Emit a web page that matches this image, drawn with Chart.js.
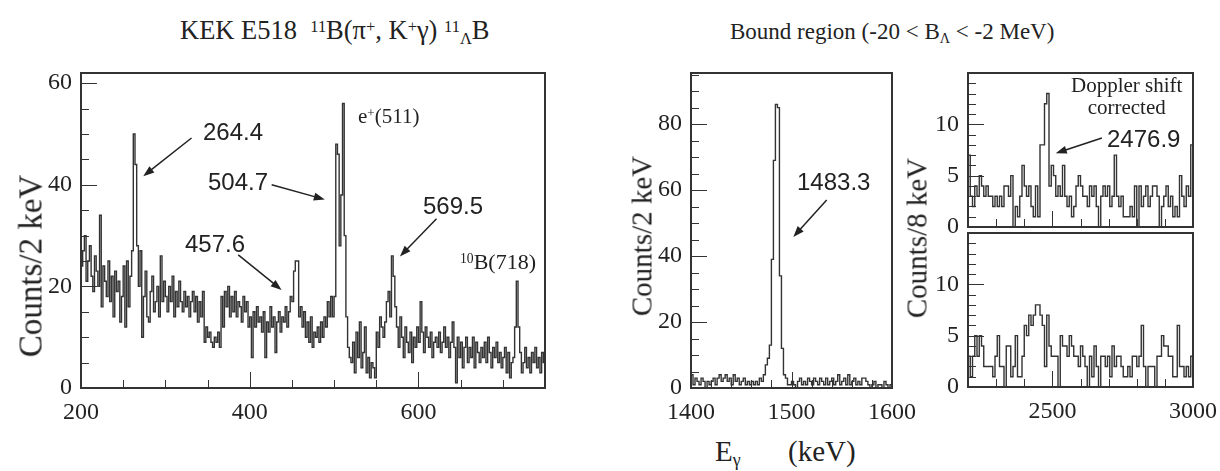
<!DOCTYPE html>
<html>
<head>
<meta charset="utf-8">
<script src="https://cdn.jsdelivr.net/npm/chart.js@4.4.1/dist/chart.umd.min.js"></script>
<style>
  body { margin: 0; background: #fff; width: 1220px; height: 471px; position: relative; overflow: hidden;
         font-family: 'Liberation Serif', serif; color: #222; }
  canvas, .t { position: absolute; }
  .t { white-space: nowrap; line-height: 1; }
  .sans { font-family: 'Liberation Sans', sans-serif; }
  .sup { position: relative; top: -0.45em; font-size: 0.62em; }
  .sub { position: relative; top: 0.3em; font-size: 0.62em; }
  .rot { transform: translate(-50%, -50%) rotate(-90deg); }
</style>
</head>
<body>
<!-- titles -->
<div class="t" style="left:180px;top:17px;font-size:26.5px">KEK E518&nbsp;&nbsp;<span class="sup">11</span>B(π<span class="sup">+</span>, K<span class="sup">+</span>γ)&nbsp;<span class="sup">11</span><span class="sub">Λ</span>B</div>
<div class="t" style="left:730px;top:20px;font-size:23px">Bound region (-20 &lt; B<span class="sub">Λ</span> &lt; -2 MeV)</div>

<canvas id="c1" width="580" height="370" style="left:0px;top:60px"></canvas>
<canvas id="c2" width="330" height="370" style="left:600px;top:60px"></canvas>
<canvas id="c4" width="330" height="205" style="left:890px;top:225px"></canvas>
<canvas id="c3" width="330" height="190" style="left:890px;top:60px"></canvas>

<!-- axis titles -->
<div class="t rot" style="left:31px;top:266px;font-size:33px">Counts/2 keV</div>
<div class="t rot" style="left:642px;top:236px;font-size:29px">Counts/2 keV</div>
<div class="t rot" style="left:917px;top:238px;font-size:29px">Counts/8 keV</div>
<div class="t" style="left:715px;top:437px;font-size:29px">E<span class="sub">γ</span></div>
<div class="t" style="left:788px;top:437px;font-size:29px">(keV)</div>

<!-- peak labels -->
<div class="t sans" style="left:203px;top:120px;font-size:24px">264.4</div>
<div class="t sans" style="left:208px;top:170px;font-size:24px">504.7</div>
<div class="t sans" style="left:185px;top:232px;font-size:24px">457.6</div>
<div class="t sans" style="left:423px;top:194px;font-size:24px">569.5</div>
<div class="t" style="left:358px;top:106px;font-size:21px">e<span class="sup">+</span>(511)</div>
<div class="t" style="left:460px;top:251px;font-size:22px"><span class="sup">10</span>B(718)</div>
<div class="t sans" style="left:797px;top:170px;font-size:24px">1483.3</div>
<div class="t" style="left:1071px;top:74px;font-size:21px;line-height:22px;text-align:center">Doppler shift<br>corrected</div>
<div class="t sans" style="left:1107px;top:127px;font-size:24px">2476.9</div>

<script>
// left panel: 11B(pi+,K+gamma), 2 keV bins from 200 keV
const p1Start = 200, p1Width = 2;
const p1Counts = [
  24, 27, 30, 21, 25, 28, 22, 19, 26, 23,
  20, 34, 16, 24, 21, 18, 25, 17, 22, 14,
  23, 19, 21, 13, 18, 24, 12, 25, 16, 22,
  27, 50, 44, 28, 20, 27, 10, 18, 23, 14,
  13, 19, 22, 15, 17, 20, 14, 26, 17, 21,
  18, 15, 20, 17, 22, 14, 19, 16, 21, 17,
  15, 19, 16, 18, 14, 17, 19, 15, 18, 13,
  17, 14, 19, 9, 12, 10, 11, 9, 8, 10,
  9, 11, 8, 18, 12, 19, 16, 20, 14, 18,
  15, 19, 14, 17, 16, 13, 18, 15, 17, 12,
  14, 6, 15, 12, 16, 13, 14, 11, 15, 6,
  13, 11, 16, 12, 14, 7, 13, 15, 11, 14,
  13, 16, 12, 15, 18, 17, 23, 25, 25, 14,
  16, 12, 15, 10, 13, 9, 14, 8, 11, 10,
  12, 9, 13, 10, 14, 12, 17, 14, 18, 14,
  18, 48, 46, 28, 38, 56, 30, 14, 8, 6,
  5, 9, 3, 11, 6, 13, 4, 7, 12, 3,
  6, 2, 5, 4, 2, 11, 8, 14, 12, 10,
  13, 17, 19, 14, 26, 22, 16, 12, 8, 14,
  10, 6, 12, 9, 7, 11, 5, 10, 8, 12,
  9, 17, 11, 7, 12, 10, 8, 11, 6, 9,
  10, 8, 11, 7, 9, 12, 8, 10, 6, 9,
  13, 8, 1, 10, 6, 9, 4, 8, 10, 5,
  8, 6, 10, 4, 9, 7, 5, 8, 6, 9,
  5, 10, 7, 4, 8, 6, 9, 5, 7, 4,
  6, 8, 3, 7, 2, 5, 6, 12, 21, 12,
  7, 3, 5, 8, 4, 6, 3, 7, 5, 8,
  4, 6, 3, 7, 5
];
const p1XTicks = [200, 400, 600];
const p1YTicks = [0, 20, 40, 60];

// middle panel: bound region, 2 keV bins from 1400 keV
const p2Start = 1400, p2Width = 2;
const p2Counts = [
  4, 1, 3, 2, 1, 3, 2, 0, 2, 1,
  2, 3, 1, 3, 4, 2, 3, 4, 2, 3,
  1, 4, 2, 3, 1, 2, 3, 1, 2, 1,
  2, 1, 2, 1, 3, 2, 4, 7, 9, 13,
  39, 69, 86, 85, 34, 12, 4, 3, 1, 1,
  2, 1, 0, 2, 3, 1, 2, 1, 3, 2,
  1, 3, 2, 1, 3, 2, 1, 3, 1, 2,
  3, 1, 2, 4, 1, 2, 3, 1, 4, 1,
  2, 3, 1, 2, 1, 3, 3, 2, 1, 0,
  1, 2, 0, 1, 1, 0, 2, 1, 0, 1
];
const p2XTicks = [1400, 1500, 1600];
const p2YTicks = [0, 20, 40, 60, 80];

// right panels: 8 keV bins from 2200 keV (top: Doppler corrected, bottom: not)
const p3Start = 2200, p3Width = 8;
const p3Counts = [
  7, 3, 2, 4, 3, 5, 4, 3, 4, 3,
  3, 2, 3, 2, 3, 2, 4, 4, 3, 5,
  0, 2, 1, 3, 6, 4, 3, 4, 2, 1,
  4, 1, 8, 8, 12, 13, 4, 6, 5, 3,
  4, 3, 6, 3, 2, 3, 1, 2, 4, 5,
  4, 3, 3, 2, 4, 3, 4, 2, 0, 3,
  4, 3, 4, 2, 3, 7, 3, 2, 3, 1,
  1, 1, 2, 1, 4, 0, 4, 2, 3, 4,
  2, 3, 4, 4, 3, 0, 2, 3, 4, 2,
  3, 1, 2, 1, 5, 3, 2, 4, 3, 8
];
const p4Counts = [
  3, 1, 3, 5, 3, 5, 4, 2, 2, 2,
  2, 1, 3, 5, 2, 2, 0, 4, 4, 1,
  2, 5, 1, 1, 3, 6, 5, 7, 6, 7,
  8, 8, 7, 6, 2, 7, 4, 3, 3, 3,
  0, 5, 4, 4, 3, 5, 4, 3, 3, 2,
  4, 3, 2, 0, 3, 1, 4, 2, 0, 3,
  3, 2, 3, 1, 4, 2, 3, 3, 2, 1,
  1, 2, 1, 3, 3, 2, 3, 6, 2, 0,
  2, 2, 2, 0, 3, 3, 5, 4, 4, 3,
  3, 1, 1, 6, 2, 2, 1, 2, 1, 3
];
const p34XTicks = [2500, 3000];
const p34YTicks = [0, 5, 10];

const INK = '#222';
const LINE = '#333';

// bin edges -> points for a stepped line
function histPoints(start, width, values) {
  const pts = values.map((v, i) => ({ x: start + i * width, y: v }));
  pts.push({ x: start + values.length * width, y: values[values.length - 1] });
  return pts;
}

// ROOT-like frame, inward ticks and arrows
const rootStyle = {
  id: 'rootStyle',
  afterDatasetsDraw(chart, args, o) {
    const { ctx, chartArea: a, scales: { x, y } } = chart;
    ctx.save();
    ctx.strokeStyle = LINE;
    ctx.lineWidth = 1;
    const isMajor = (v, m) => Math.abs(v / m - Math.round(v / m)) < 1e-6;
    ctx.beginPath();
    for (let v = Math.ceil(x.min / o.xMinor) * o.xMinor; v <= x.max + 1e-9; v += o.xMinor) {
      const px = Math.round(x.getPixelForValue(v)) + 0.5;
      ctx.moveTo(px, a.bottom);
      ctx.lineTo(px, a.bottom - (isMajor(v, o.xMajor) ? o.major : o.minor));
    }
    for (let v = Math.ceil(y.min / o.yMinor) * o.yMinor; v <= y.max + 1e-9; v += o.yMinor) {
      const py = Math.round(y.getPixelForValue(v)) + 0.5;
      ctx.moveTo(a.left, py);
      ctx.lineTo(a.left + (isMajor(v, o.yMajor) ? o.major : o.minor), py);
    }
    ctx.stroke();
    ctx.lineWidth = 2;
    ctx.strokeRect(a.left, a.top, a.right - a.left, a.bottom - a.top);

    ctx.strokeStyle = INK;
    ctx.fillStyle = INK;
    ctx.lineWidth = 1.5;
    (o.arrows || []).forEach(([x1, y1, x2, y2]) => {
      const ax = x.getPixelForValue(x1), ay = y.getPixelForValue(y1);
      const bx = x.getPixelForValue(x2), by = y.getPixelForValue(y2);
      const ang = Math.atan2(by - ay, bx - ax);
      ctx.beginPath();
      ctx.moveTo(ax, ay);
      ctx.lineTo(bx - 8 * Math.cos(ang), by - 8 * Math.sin(ang));
      ctx.stroke();
      ctx.beginPath();
      ctx.moveTo(bx, by);
      ctx.lineTo(bx - 11 * Math.cos(ang) + 4 * Math.sin(ang), by - 11 * Math.sin(ang) - 4 * Math.cos(ang));
      ctx.lineTo(bx - 11 * Math.cos(ang) - 4 * Math.sin(ang), by - 11 * Math.sin(ang) + 4 * Math.cos(ang));
      ctx.closePath();
      ctx.fill();
    });
    ctx.restore();
  }
};

function makeHist(id, c) {
  const font = { family: 'Liberation Serif', size: 24 };
  new Chart(document.getElementById(id), {
    type: 'line',
    data: {
      datasets: [{
        data: histPoints(c.start, c.width, c.values),
        stepped: true,
        borderColor: LINE,
        borderWidth: 1.4,
        pointRadius: 0,
        fill: false
      }]
    },
    options: {
      responsive: false,
      animation: false,
      devicePixelRatio: 1,
      layout: { padding: { left: 0, top: c.top, right: c.right, bottom: 0 } },
      plugins: {
        legend: { display: false },
        tooltip: { enabled: false },
        rootStyle: c.frame
      },
      scales: {
        x: {
          type: 'linear',
          min: c.xMin, max: c.xMax,
          afterFit: s => { s.height = c.xH; s.paddingLeft = 0; s.paddingRight = 0; },
          afterBuildTicks: s => { s.ticks = c.xTicks.map(v => ({ value: v })); },
          ticks: { display: c.xLabels, font, color: INK, padding: 10, maxRotation: 0, autoSkip: false,
                   callback: v => String(v) },
          grid: { display: false, drawTicks: false },
          border: { display: false }
        },
        y: {
          min: 0, max: c.yMax,
          afterFit: s => { s.width = c.yW; s.paddingTop = 0; s.paddingBottom = 0; },
          afterBuildTicks: s => { s.ticks = c.yTicks.map(v => ({ value: v })); },
          ticks: { font, color: INK, padding: 9, autoSkip: false, callback: v => String(v) },
          grid: { display: false, drawTicks: false },
          border: { display: false }
        }
      }
    },
    plugins: [rootStyle]
  });
}

makeHist('c1', {
  start: p1Start, width: p1Width, values: p1Counts,
  xMin: 200, xMax: 750, yMax: 62, xTicks: p1XTicks, yTicks: p1YTicks, xLabels: true,
  top: 13, right: 35, xH: 42, yW: 81,
  frame: { xMajor: 200, xMinor: 50, yMajor: 20, yMinor: 5, major: 16, minor: 8,
           arrows: [[331, 49.2, 273.8, 41.7], [426, 40, 489, 37.1], [386.4, 26.2, 437.8, 19.3], [621.4, 33.3, 578, 25.9]] }
});

makeHist('c2', {
  start: p2Start, width: p2Width, values: p2Counts,
  xMin: 1400, xMax: 1600, yMax: 95.5, xTicks: p2XTicks, yTicks: p2YTicks, xLabels: true,
  top: 13, right: 38, xH: 42, yW: 91,
  frame: { xMajor: 100, xMinor: 20, yMajor: 20, yMinor: 5, major: 16, minor: 8,
           arrows: [[1535, 57, 1501.8, 45.8]] }
});

makeHist('c3', {
  start: p3Start, width: p3Width, values: p3Counts,
  xMin: 2200, xMax: 3000, yMax: 15, xTicks: p34XTicks, yTicks: p34YTicks, xLabels: false,
  top: 13, right: 27, xH: 23, yW: 78,
  frame: { xMajor: 500, xMinor: 100, yMajor: 5, yMinor: 1, major: 16, minor: 8,
           arrows: [[2676, 8.67, 2512, 7.18]] }
});

makeHist('c4', {
  start: p3Start, width: p3Width, values: p4Counts,
  xMin: 2200, xMax: 3000, yMax: 15, xTicks: p34XTicks, yTicks: p34YTicks, xLabels: true,
  top: 8, right: 27, xH: 43, yW: 78,
  frame: { xMajor: 500, xMinor: 100, yMajor: 5, yMinor: 1, major: 16, minor: 8 }
});
</script>
</body>
</html>
